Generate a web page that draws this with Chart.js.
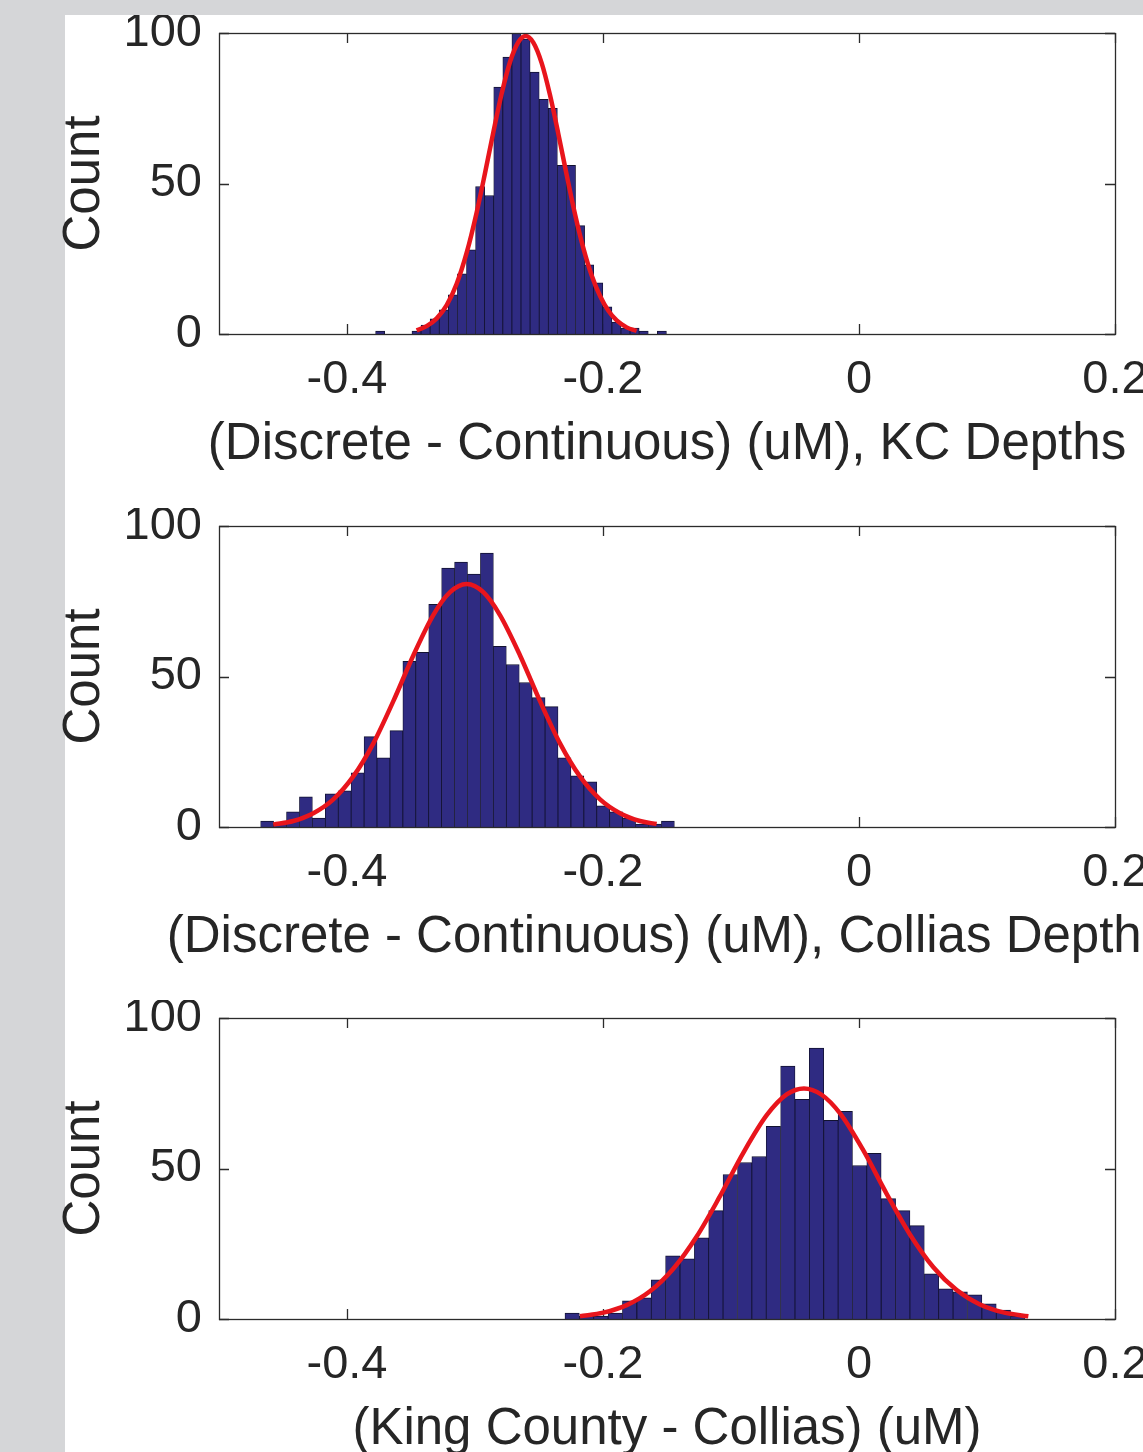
<!DOCTYPE html>
<html>
<head>
<meta charset="utf-8">
<script src="https://cdn.jsdelivr.net/npm/chart.js@4.4.1/dist/chart.umd.min.js"></script>
<style>
  html, body { margin: 0; padding: 0; width: 1143px; height: 1452px; overflow: hidden; background: #d5d6d8; }
  #paper { position: absolute; left: 65px; top: 15px; width: 1078px; height: 1437px; background: #ffffff; }
  canvas { position: absolute; left: 0; }
</style>
</head>
<body>
<div id="paper"></div>
<canvas id="c1" width="1143" height="493" style="top:15px"></canvas>
<canvas id="c2" width="1143" height="493" style="top:508px"></canvas>
<canvas id="c3" width="1143" height="493" style="top:1000px"></canvas>
<script>
// ---------- axis ticks / titles ----------
const xTickValues = [-0.4, -0.2, 0, 0.2];
const xTickLabels = ['-0.4', '-0.2', '0', '0.2'];
const yTickValues = [0, 50, 100];
const yTickLabels = ['0', '50', '100'];
const yAxisTitle = 'Count';
const xAxisTitles = [
  '(Discrete - Continuous) (uM), KC Depths',
  '(Discrete - Continuous) (uM), Collias Depths',
  '(King County - Collias) (uM)'
];

// ---------- panel 1: KC depths ----------
const kcBinCenters = [-0.3741, -0.3670, -0.3599, -0.3528, -0.3457, -0.3386, -0.3315, -0.3244,
  -0.3173, -0.3102, -0.3031, -0.2960, -0.2889, -0.2818, -0.2747, -0.2676,
  -0.2605, -0.2534, -0.2463, -0.2392, -0.2321, -0.2250, -0.2179, -0.2108,
  -0.2037, -0.1966, -0.1895, -0.1824, -0.1753, -0.1682, -0.1611, -0.1540];
const kcCounts = [1, 0, 0, 0, 1, 3, 5, 8, 13, 20, 28, 49, 46, 82, 92, 100,
  98, 87, 78, 75, 56, 56, 36, 23, 17, 9, 4, 2, 2, 1, 0, 1];
const kcFitX = [-0.3456, -0.3378, -0.3299, -0.3221, -0.3143, -0.3065, -0.2987, -0.2922, -0.2857,
  -0.2792, -0.2727, -0.2661, -0.2604, -0.2544, -0.2479, -0.2414, -0.2349, -0.2284, -0.2219,
  -0.2154, -0.2089, -0.2023, -0.1958, -0.1893, -0.1815, -0.1737];
const kcFitY = [1.2, 2.6, 5.2, 9.6, 16.7, 27, 40.4, 53.4, 67, 79.8, 90.3, 97, 99, 96.8, 90,
  79.4, 66.5, 52.9, 39.9, 28.6, 19.5, 12.6, 7.7, 4.5, 2.2, 1.0];

// ---------- panel 2: Collias depths ----------
const colBinCenters = [-0.4624, -0.4523, -0.4422, -0.4321, -0.4220, -0.4119, -0.4018, -0.3917,
  -0.3816, -0.3715, -0.3614, -0.3513, -0.3412, -0.3311, -0.3210, -0.3109,
  -0.3008, -0.2907, -0.2806, -0.2705, -0.2604, -0.2503, -0.2402, -0.2301,
  -0.2200, -0.2099, -0.1998, -0.1897, -0.1796, -0.1695, -0.1594, -0.1493];
const colCounts = [2, 1, 5, 10, 3, 11, 12, 18, 30, 23, 32, 55, 58, 74, 86, 88,
  84, 91, 60, 54, 48, 43, 40, 23, 17, 15, 7, 5, 3, 1, 1, 2];
const colFitX = [-0.4576, -0.4419, -0.4263, -0.4107, -0.3951, -0.3794, -0.3638, -0.3482, -0.3326,
  -0.3195, -0.3065, -0.2935, -0.2805, -0.2648, -0.2492, -0.2336, -0.2180, -0.2023, -0.1867,
  -0.1711, -0.1581];
const colFitY = [0.8, 2.0, 4.6, 9.2, 16.8, 27.8, 41.8, 57.0, 70.4, 78.0, 80.7, 78.0, 70.4, 57.0,
  41.8, 27.8, 16.8, 9.2, 4.6, 2.0, 1.0];

// ---------- panel 3: King County - Collias ----------
const kccBinCenters = [-0.2241, -0.2129, -0.2016, -0.1904, -0.1792, -0.1679, -0.1567, -0.1455,
  -0.1342, -0.1230, -0.1118, -0.1006, -0.0893, -0.0781, -0.0669, -0.0556,
  -0.0444, -0.0332, -0.0219, -0.0107, 0.0005, 0.0117, 0.0230, 0.0342,
  0.0454, 0.0567, 0.0679, 0.0791, 0.0904, 0.1016, 0.1128, 0.1240];
const kccCounts = [2, 1, 1, 2, 6, 7, 13, 21, 20, 27, 36, 48, 52, 54, 64, 84,
  73, 90, 66, 69, 51, 55, 40, 36, 31, 15, 10, 9, 8, 5, 3, 1];
const kccFitX = [-0.2180, -0.1997, -0.1815, -0.1633, -0.1451, -0.1268, -0.1086, -0.0904, -0.0721,
  -0.0565, -0.0430, -0.0292, -0.0148, 0.0034, 0.0216, 0.0398, 0.0581, 0.0763, 0.0945,
  0.1128, 0.1323];
const kccFitY = [0.9, 2.1, 4.6, 9.2, 16.7, 27.4, 40.8, 55.2, 67.7, 74.6, 76.6, 74.5, 68.3, 56.0,
  41.6, 28.1, 17.2, 9.6, 4.8, 2.2, 0.9];

// ---------- styling ----------
const FONT_FAMILY = "'Liberation Sans', Arial, Helvetica, sans-serif";
const TEXT_COLOR = '#262626';
const AXIS_COLOR = '#2b2b2b';
const BAR_FILL = '#2f2b82';
const BAR_EDGE = '#121230';
const FIT_COLOR = '#e8151c';
const TICK_FONT = 47;
const LABEL_FONT = 51;
const TICK_LEN = 10;

Chart.defaults.font.family = FONT_FAMILY;
Chart.defaults.color = TEXT_COLOR;

const matlabAxes = {
  id: 'matlabAxes',
  beforeDatasetsDraw(chart) {
    const { ctx, chartArea: a, scales: { x, y } } = chart;
    ctx.save();
    ctx.strokeStyle = AXIS_COLOR;
    ctx.lineWidth = 1.3;
    ctx.beginPath();
    x.ticks.forEach(t => {
      const px = Math.round(x.getPixelForValue(t.value)) + 0.5;
      ctx.moveTo(px, a.bottom); ctx.lineTo(px, a.bottom - TICK_LEN);
      ctx.moveTo(px, a.top); ctx.lineTo(px, a.top + TICK_LEN);
    });
    y.ticks.forEach(t => {
      const py = Math.round(y.getPixelForValue(t.value)) + 0.5;
      ctx.moveTo(a.left, py); ctx.lineTo(a.left + TICK_LEN, py);
      ctx.moveTo(a.right, py); ctx.lineTo(a.right - TICK_LEN, py);
    });
    ctx.stroke();
    ctx.restore();
  },
  afterDatasetsDraw(chart, args, opts) {
    const { ctx, chartArea: a } = chart;
    ctx.save();
    ctx.strokeStyle = AXIS_COLOR;
    ctx.lineWidth = 1.3;
    ctx.strokeRect(Math.round(a.left) + 0.5, Math.round(a.top) + 0.5,
      Math.round(a.right - a.left), Math.round(a.bottom - a.top));
    ctx.restore();
  },
  afterDraw(chart, args, opts) {
    const { ctx, chartArea: a } = chart;
    ctx.save();
    ctx.fillStyle = TEXT_COLOR;
    ctx.font = LABEL_FONT + 'px ' + FONT_FAMILY;
    ctx.textAlign = 'center';
    ctx.textBaseline = 'middle';
    ctx.fillText(opts.title, (a.left + a.right) / 2, a.bottom + 111);
    ctx.restore();
  }
};

function makePanel(id, centers, counts, fitX, fitY, title) {
  return new Chart(document.getElementById(id), {
    type: 'bar',
    data: {
      datasets: [
        {
          type: 'line',
          data: fitX.map((v, i) => ({ x: v, y: fitY[i] })),
          borderColor: FIT_COLOR,
          borderWidth: 4.5,
          pointRadius: 0,
          fill: false,
          cubicInterpolationMode: 'monotone',
          order: 0
        },
        {
          type: 'bar',
          data: centers.map((v, i) => ({ x: v, y: counts[i] })),
          backgroundColor: BAR_FILL,
          borderColor: BAR_EDGE,
          borderWidth: { left: 0.8, right: 0.8, top: 1, bottom: 0 },
          borderSkipped: false,
          barPercentage: 1,
          categoryPercentage: 1,
          order: 1
        }
      ]
    },
    options: {
      responsive: false,
      animation: false,
      devicePixelRatio: 1,
      layout: { padding: { left: 0, right: 28, top: 18, bottom: 0 } },
      plugins: {
        legend: { display: false },
        tooltip: { enabled: false },
        matlabAxes: { title: title }
      },
      scales: {
        x: {
          type: 'linear',
          min: -0.5,
          max: 0.2,
          offset: false,
          grid: { display: false, drawTicks: false },
          border: { display: false },
          afterBuildTicks: s => { s.ticks = xTickValues.map(v => ({ value: v })); },
          ticks: {
            autoSkip: false,
            maxRotation: 0,
            padding: 18,
            font: { size: TICK_FONT },
            callback: v => {
              const k = xTickValues.findIndex(t => Math.abs(t - v) < 1e-9);
              return k >= 0 ? xTickLabels[k] : '';
            }
          },
          afterFit: s => { s.height = 174; s.paddingLeft = 0; s.paddingRight = 0; }
        },
        y: {
          min: 0,
          max: 100,
          grid: { display: false, drawTicks: false },
          border: { display: false },
          afterBuildTicks: s => { s.ticks = yTickValues.map(v => ({ value: v })); },
          ticks: {
            padding: 17,
            font: { size: TICK_FONT },
            callback: v => {
              const k = yTickValues.indexOf(v);
              return k >= 0 ? yTickLabels[k] : '';
            }
          },
          title: {
            display: true,
            text: yAxisTitle,
            font: { size: LABEL_FONT },
            padding: { top: 54, bottom: 0 }
          },
          afterFit: s => { s.width = 219; s.paddingTop = 0; s.paddingBottom = 0; }
        }
      }
    },
    plugins: [matlabAxes]
  });
}

makePanel('c1', kcBinCenters, kcCounts, kcFitX, kcFitY, xAxisTitles[0]);
makePanel('c2', colBinCenters, colCounts, colFitX, colFitY, xAxisTitles[1]);
makePanel('c3', kccBinCenters, kccCounts, kccFitX, kccFitY, xAxisTitles[2]);
</script>
</body>
</html>
